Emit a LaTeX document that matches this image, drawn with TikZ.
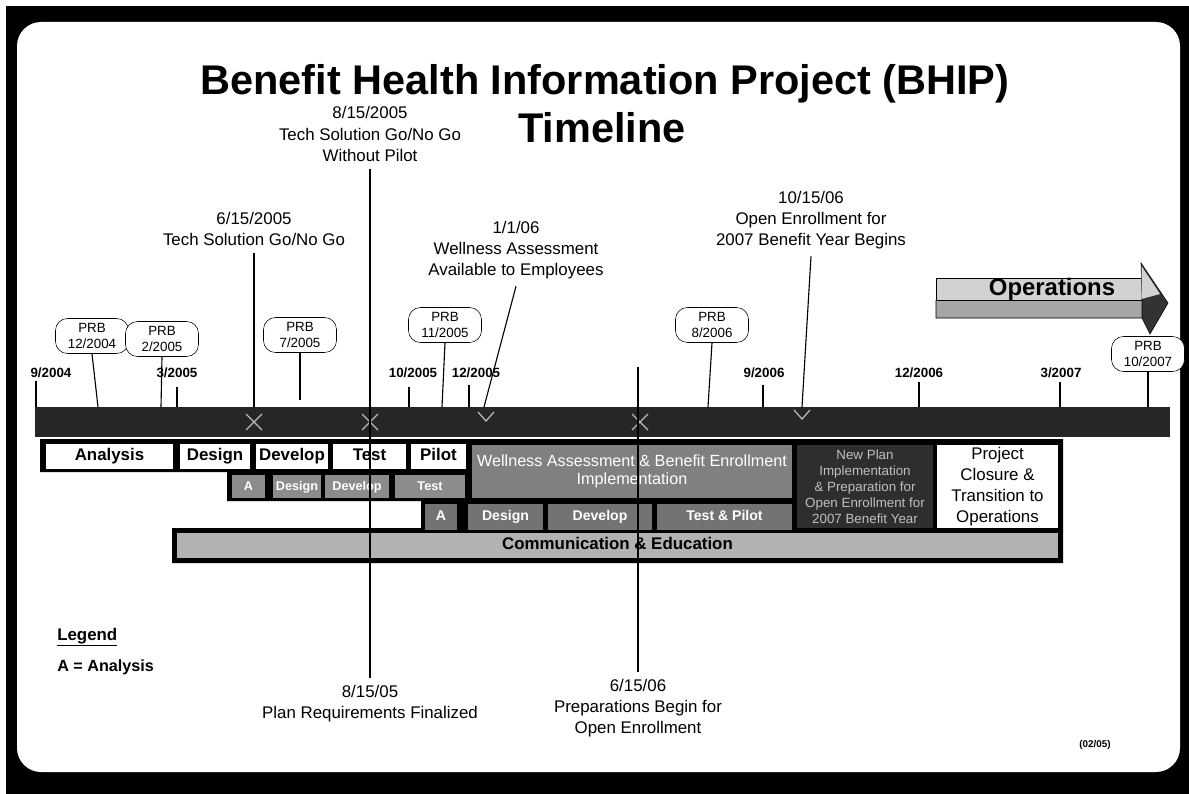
\documentclass[tikz,border=0pt]{standalone}
\usepackage{fontspec}
\setmainfont{Liberation Sans}
\usepackage{xcolor}
\usepackage{tikz}

\tikzset{
  milestone/.style={align=center,font=\fontsize{12}{15}\selectfont,inner sep=5pt},
  prb/.style={draw,fill=white,rounded corners=0.3cm,align=center,inner sep=1pt,
    minimum width=1.825cm,minimum height=0.875cm,font=\fontsize{9.5}{11.3}\selectfont},
  datelbl/.style={font=\fontsize{9.5}{11}\selectfont\bfseries,inner sep=1pt},
  tick/.style={line width=2pt},
  leader/.style={line width=0.8pt},
  xmark/.style={gray!55,line width=0.9pt},
  phase/.style={fill=white,inner sep=0pt,minimum height=0.625cm,
    text height=0.72em,text depth=0.2em,
    font=\fontsize{12}{14}\selectfont\bfseries},
  subphase/.style={fill=black!45,text=white,inner sep=0pt,minimum height=0.575cm,
    text height=0.72em,text depth=0.2em,
    font=\fontsize{9}{10}\selectfont\bfseries},
  lowphase/.style={fill=black!55,text=white,inner sep=0pt,minimum height=0.65cm,
    text height=0.72em,text depth=0.2em,
    font=\fontsize{10}{11}\selectfont\bfseries}
}

\begin{document}
\begin{tikzpicture}[x=0.025cm,y=-0.025cm]
  \useasboundingbox (0,0) rectangle (1189,794);
  % frame
  \fill[black] (6,6) rectangle (1189,794);
  \fill[white,rounded corners=0.6cm] (17,22) rectangle (1180,772);

  % title
  \node[anchor=base,font=\fontsize{29.5}{34}\selectfont\bfseries] (title) at (605,95)
    {Benefit Health Information Project (BHIP)};
  \node[anchor=base,font=\fontsize{29.5}{34}\selectfont\bfseries] (timeline) at (602,143)
    {Timeline};

  % timeline bar and phase rows
  \node[fill=black!85,inner sep=0pt,minimum width=28.375cm,minimum height=0.75cm]
    (bar) at (602.5,422) {};
  \fill[black] (40,439) -- (1063,439) -- (1063,563) -- (172,563) -- (172,528)
    -- (421,528) -- (421,501) -- (227,501) -- (227,472) -- (40,472) -- cycle;

  \node[phase,minimum width=3.175cm] (analysis) at (109.5,456.5) {Analysis};
  \node[phase,minimum width=1.75cm] (design) at (215,456.5) {Design};
  \node[phase,minimum width=1.8cm] (develop) at (292,456.5) {Develop};
  \node[phase,minimum width=1.825cm] (test) at (369.5,456.5) {Test};
  \node[phase,minimum width=1.375cm] (pilot) at (438.5,456.5) {Pilot};
  \node[fill=black!50,text=white,align=center,inner sep=0pt,minimum width=8cm,
    minimum height=1.325cm,font=\fontsize{11.5}{13}\selectfont] (wellimpl) at (632,471.5)
    {Wellness Assessment \& Benefit Enrollment\\Implementation};
  \node[fill=black!82,text=gray!50,align=center,inner sep=0pt,minimum width=3.4cm,
    minimum height=2.075cm,font=\fontsize{9.5}{11.3}\selectfont] (newplan) at (865,486.5)
    {New Plan\\Implementation\\\& Preparation for\\Open Enrollment for\\2007 Benefit Year};
  \node[fill=white,align=center,inner sep=0pt,minimum width=3.025cm,
    minimum height=2.075cm,font=\fontsize{12}{15}\selectfont] (closure) at (997.5,486.5)
    {Project\\Closure \&\\Transition to\\Operations};

  \node[subphase,minimum width=0.825cm] (a2) at (248.5,486.5) {A};
  \node[subphase,minimum width=1.2cm] (design2) at (297,486.5) {Design};
  \node[subphase,minimum width=1.6cm] (develop2) at (357,486.5) {Develop};
  \node[subphase,minimum width=1.75cm] (test2) at (430,486.5) {Test};

  \node[lowphase,minimum width=0.8cm] (a3) at (441,517) {A};
  \node[lowphase,minimum width=1.875cm] (design3) at (505.5,517) {Design};
  \node[lowphase,minimum width=2.6cm] (develop3) at (600,517) {Develop};
  \node[lowphase,minimum width=3.375cm] (test3) at (724.5,517) {Test \& Pilot};

  \node[fill=black!30,inner sep=0pt,minimum width=22.025cm,minimum height=0.625cm,
    text height=0.72em,text depth=0.2em,
    font=\fontsize{12}{14}\selectfont\bfseries] (commed) at (617.5,545.5)
    {Communication \& Education};

  % marks on the bar
  \draw[xmark] (246,414) -- (262,430) (246,430) -- (262,414);
  \draw[xmark] (362,414) -- (378,430) (362,430) -- (378,414);
  \draw[xmark] (632,414) -- (648,430) (632,430) -- (648,414);
  \draw[xmark] (794,410) -- (802,419) -- (810,410);
  \draw[xmark] (478,412) -- (486,421) -- (494,412);

  % dates on the bar
  \node[datelbl] (d0904) at (51,373) {9/2004};
  \node[datelbl] (d0305) at (177,373) {3/2005};
  \node[datelbl] (d1005) at (413,373) {10/2005};
  \node[datelbl] (d1205) at (476,373) {12/2005};
  \node[datelbl] (d0906) at (764,373) {9/2006};
  \node[datelbl] (d1206) at (919,373) {12/2006};
  \node[datelbl] (d0307) at (1061,373) {3/2007};
  \coordinate (k0904) at (36,381);
  \coordinate (k0305) at (177,387);
  \coordinate (k1005) at (409,387);
  \coordinate (k1205) at (469,385);
  \coordinate (k0906) at (763,385);
  \coordinate (k1206) at (919,382);
  \coordinate (k0307) at (1060,382);
  \draw[tick] (k0904) -- (k0904 |- bar.north);
  \draw[tick] (k0305) -- (k0305 |- bar.north);
  \draw[tick] (k1005) -- (k1005 |- bar.north);
  \draw[tick] (k1205) -- (k1205 |- bar.north);
  \draw[tick] (k0906) -- (k0906 |- bar.north);
  \draw[tick] (k1206) -- (k1206 |- bar.north);
  \draw[tick] (k0307) -- (k0307 |- bar.north);

  % PRB reviews
  \node[prb] (prb1204) at (92,336) {PRB\\12/2004};
  \node[prb] (prb0205) at (162,339) {PRB\\2/2005};
  \node[prb] (prb0705) at (300,335) {PRB\\7/2005};
  \node[prb] (prb1105) at (445,325) {PRB\\11/2005};
  \node[prb] (prb0806) at (712,325) {PRB\\8/2006};
  \node[prb] (prb1007) at (1148,354) {PRB\\10/2007};
  \coordinate (m1204) at (98,407);
  \coordinate (m0205) at (161,407);
  \coordinate (m0705) at (300,400);
  \coordinate (m1105) at (442,407);
  \coordinate (m0806) at (708,407);
  \coordinate (m1007) at (1148,407);
  \draw[leader] (prb1204.south) -- (m1204);
  \draw[leader] (prb0205.south) -- (m0205);
  \draw[leader] (prb0705.south) -- (m0705);
  \draw[leader] (prb1105.south) -- (m1105);
  \draw[leader] (prb0806.south) -- (m0806);
  \draw[leader] (prb1007.south) -- (m1007);

  % milestones
  \node[milestone] (nopilot) at (370,134) {8/15/2005\\Tech Solution Go/No Go\\Without Pilot};
  \node[milestone] (planreq) at (370,704) {8/15/05\\Plan Requirements Finalized};
  \node[milestone] (gonogo) at (254,229) {6/15/2005\\Tech Solution Go/No Go};
  \node[milestone] (wellavail) at (516,250) {1/1/06\\Wellness Assessment\\Available to Employees};
  \node[milestone] (openenr) at (811,220) {10/15/06\\Open Enrollment for\\2007 Benefit Year Begins};
  \node[milestone] (prepare) at (638,708) {6/15/06\\Preparations Begin for\\Open Enrollment};
  \coordinate (x0605) at (254,407);
  \coordinate (x0106) at (484,407);
  \coordinate (x1006) at (802,407);
  \coordinate (x0606) at (638,367);
  \draw[leader] (nopilot.south) -- (planreq.north);
  \draw[leader] (gonogo.south) -- (x0605);
  \draw[leader] (wellavail.south) -- (x0106);
  \draw[leader] (openenr.south) -- (x1006);
  \draw[leader] (x0606) -- (prepare.north);

  % operations arrow
  \filldraw[fill=gray!70,draw=black,line width=0.4pt]
    (936,300) -- (1142,300) -- (1146,318) -- (936,318) -- cycle;
  \filldraw[fill=gray!35,draw=black,line width=0.4pt] (936,278) rectangle (1142,300);
  \filldraw[fill=black!80,draw=black,line width=0.4pt]
    (1141,263) -- (1168,303) -- (1150,334) -- (1142,318) -- (1142,300) -- cycle;
  \fill[gray!35] (1141.5,266) -- (1160,294) -- (1141.5,299) -- cycle;
  \node[font=\fontsize{17}{20}\selectfont\bfseries] (ops) at (1052,289) {Operations};

  % legend
  \node[anchor=base west,font=\fontsize{12}{14}\selectfont\bfseries,inner sep=0pt]
    (legend) at (57,640) {\underline{Legend}};
  \node[anchor=base west,font=\fontsize{11.5}{14}\selectfont\bfseries,inner sep=0pt]
    (legenda) at (57,671) {A = Analysis};
  \node[font=\fontsize{7}{8}\selectfont\bfseries] (version) at (1095,745) {(02/05)};
\end{tikzpicture}
\end{document}
